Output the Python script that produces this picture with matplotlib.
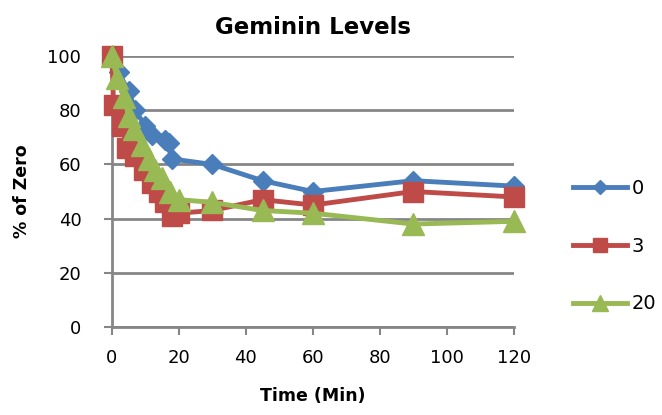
import matplotlib.pyplot as plt

# data
t_0 = [0, 2, 5, 7, 10, 12, 16, 17, 18, 30, 45, 60, 90, 120]
v_0 = [100, 94, 87, 80, 74, 71, 69, 68, 62, 60, 54, 50, 54, 52]

t_3 = [0, 0.5, 3, 4.5, 7, 9.5, 12, 14, 16, 18, 20, 30, 45, 60, 90, 120]
v_3 = [100, 82, 74, 66, 63, 58, 53, 50, 46, 41, 42, 43, 47, 45, 50, 48]

t_20 = [0, 1.5, 3.5, 5, 6.5, 9, 11, 13, 15, 17.5, 20, 30, 45, 60, 90, 120]
v_20 = [100, 92, 85, 78, 73, 67, 62, 58, 55, 50, 47, 46, 43, 42, 38, 39]

labels = ["0", "3", "20"]
colors = ["#4A7EBB", "#BE4B48", "#98B954"]

fig = plt.figure(figsize=(6.62, 4.15), dpi=100)
ax = fig.add_axes([0.169, 0.212, 0.607, 0.653])

ax.plot(t_0, v_0, color=colors[0], lw=3.5, marker='D', ms=10, label=labels[0], zorder=3, clip_on=False)
ax.plot(t_3, v_3, color=colors[1], lw=3.5, marker='s', ms=15, label=labels[1], zorder=4, clip_on=False)
ax.plot(t_20, v_20, color=colors[2], lw=3.5, marker='^', ms=16, label=labels[2], zorder=5, clip_on=False)

ax.set_xlim(0, 120)
ax.set_ylim(0, 100)
ax.set_xticks(range(0, 121, 20))
ax.set_yticks(range(0, 101, 20))
ax.grid(axis='y', color='#868686', lw=2)
ax.set_axisbelow(True)
for s in ['top', 'right']:
    ax.spines[s].set_visible(False)
for s in ['left', 'bottom']:
    ax.spines[s].set_color('#868686')
    ax.spines[s].set_linewidth(2)
ax.tick_params(colors='#868686', labelcolor='black', labelsize=13, width=1.5, length=6)
ax.tick_params(axis='x', pad=10)
ax.tick_params(axis='y', pad=16)

ax.set_title("Geminin Levels", fontsize=16.5, fontweight='bold', pad=16)
ax.set_xlabel("Time (Min)", fontsize=12.5, fontweight='bold', labelpad=14)
ax.set_ylabel("% of Zero", fontsize=12.5, fontweight='bold', labelpad=12)

fig.legend(loc='center left', bbox_to_anchor=(573 / 662, 1 - 246 / 415), frameon=False,
           fontsize=14, handlelength=2.8, labelspacing=2.0, markerscale=0.7,
           handletextpad=0.2, borderpad=0, borderaxespad=0)

plt.savefig("out.png", dpi=100)
